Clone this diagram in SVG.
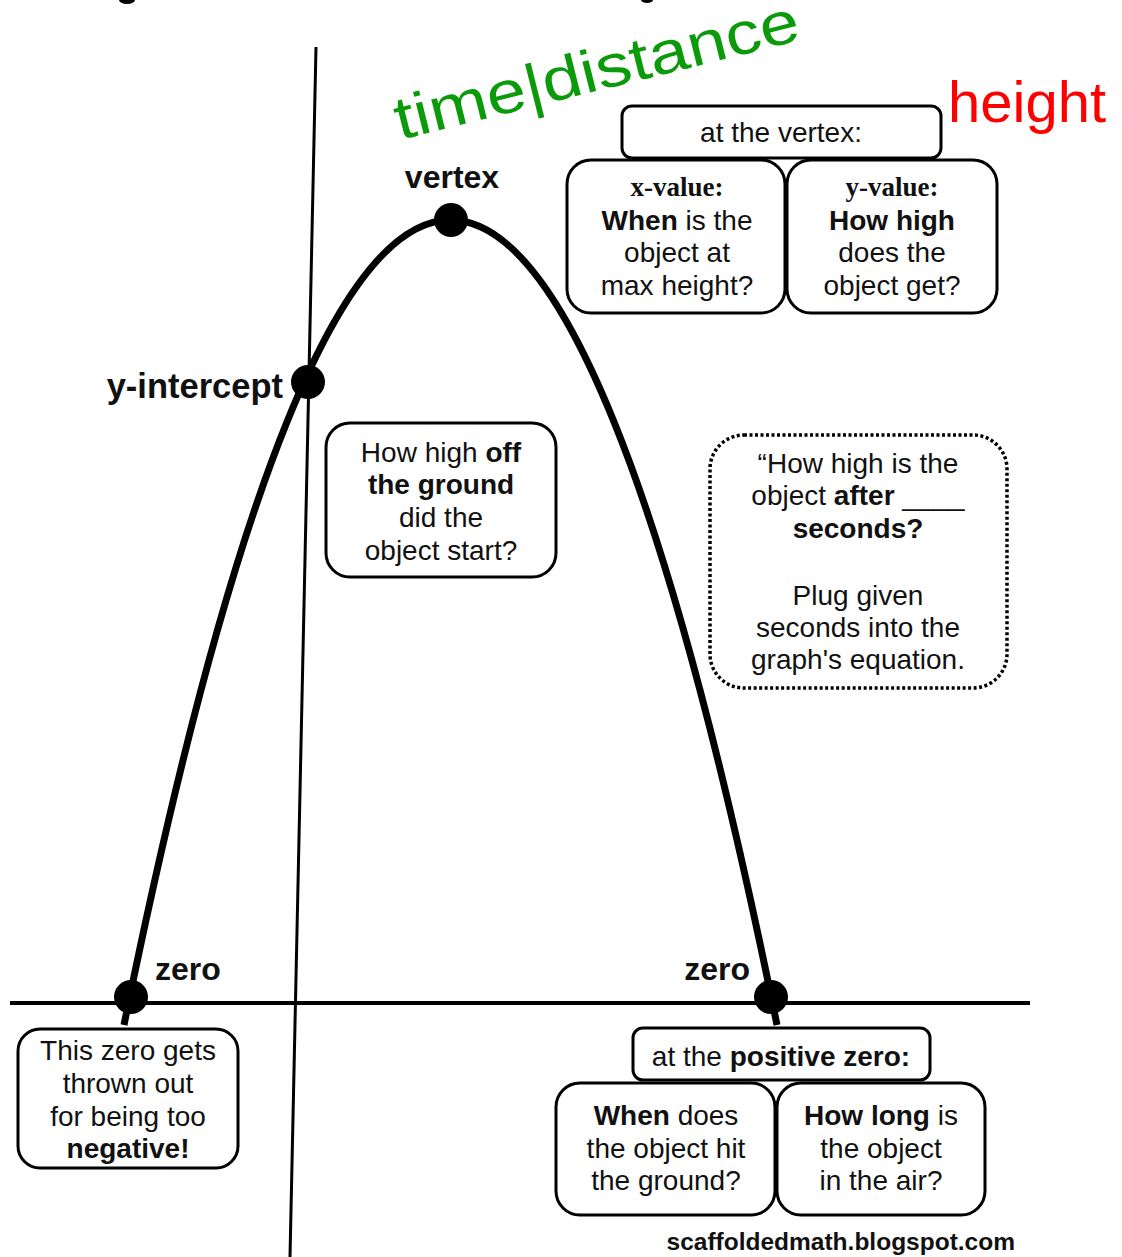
<svg xmlns="http://www.w3.org/2000/svg" width="1122" height="1257" viewBox="0 0 1122 1257">
<defs>
<style>
.box{fill:#fff;stroke:#000;stroke-width:3}
.dot{fill:#000}
.t{font-family:"Liberation Sans",Arial,sans-serif;font-size:28px;fill:#111;text-anchor:middle}
.b{font-weight:bold}
.lbl{font-family:"Liberation Sans",Arial,sans-serif;font-size:32px;font-weight:bold;fill:#111}
.serif{font-family:"Liberation Serif","Times New Roman",serif;font-weight:bold;font-size:27px}
</style>
</defs>
<rect width="1122" height="1257" fill="#fff"/>
<ellipse cx="127" cy="0" rx="8" ry="4" fill="#000"/>
<ellipse cx="647" cy="0" rx="6" ry="3" fill="#000"/>

<g id="connectors">
<line x1="316" y1="47" x2="290" y2="1257" stroke="#000" stroke-width="3"/>
<line x1="10" y1="1003" x2="1030" y2="1003" stroke="#000" stroke-width="4"/>
<path id="parabola" d="M124,1025 Q450.5,-585 777,1025" fill="none" stroke="#000" stroke-width="7"/>
</g>

<g id="points">
<circle class="dot" cx="451" cy="220" r="17"/>
<circle class="dot" cx="308" cy="382" r="17"/>
<circle class="dot" cx="131" cy="997" r="17"/>
<circle class="dot" cx="771" cy="997" r="17"/>
</g>

<g id="labels">
<text class="lbl" x="452" y="188" text-anchor="middle">vertex</text>
<text class="lbl" x="283" y="398" text-anchor="end" style="font-size:34.5px">y-intercept</text>
<text class="lbl" x="155" y="980">zero</text>
<text class="lbl" x="750" y="980" text-anchor="end">zero</text>
</g>

<g id="handwriting">
<text x="400" y="140" transform="rotate(-14 400 140)" font-family="Liberation Sans, Arial, sans-serif" font-size="60" textLength="415" lengthAdjust="spacingAndGlyphs" fill="#0a9a0a">time|distance</text>
</g>
<g id="height-label">
<text x="948" y="122" font-family="Liberation Sans, Arial, sans-serif" font-size="58" fill="#ff0000">height</text>
</g>

<g id="vertex-header">
<rect class="box" x="622" y="106" width="319" height="52" rx="10"/>
<text class="t" x="781" y="142">at the vertex:</text>
</g>
<g id="x-value">
<rect class="box" x="567" y="160" width="218" height="153" rx="24"/>
<text class="t" x="677" y="196"><tspan class="serif">x-value:</tspan></text>
<text class="t" x="677" y="230"><tspan class="b">When</tspan> is the</text>
<text class="t" x="677" y="262">object at</text>
<text class="t" x="677" y="295">max height?</text>
</g>
<g id="y-value">
<rect class="box" x="787" y="160" width="210" height="153" rx="24"/>
<text class="t" x="892" y="196"><tspan class="serif">y-value:</tspan></text>
<text class="t b" x="892" y="230">How high</text>
<text class="t" x="892" y="262">does the</text>
<text class="t" x="892" y="295">object get?</text>
</g>

<g id="y-intercept-box">
<rect class="box" x="326" y="423" width="230" height="154" rx="24"/>
<text class="t" x="441" y="462">How high <tspan class="b">off</tspan></text>
<text class="t b" x="441" y="494">the ground</text>
<text class="t" x="441" y="527">did the</text>
<text class="t" x="441" y="560">object start?</text>
</g>

<g id="after-seconds-box">
<rect x="710" y="435" width="297" height="253" rx="34" fill="#fff" stroke="#000" stroke-width="3.5" stroke-dasharray="3 2.5"/>
<text class="t" x="858" y="473">“How high is the</text>
<text class="t" x="858" y="505">object <tspan class="b">after</tspan> ____</text>
<text class="t b" x="858" y="538">seconds?</text>
<text class="t" x="858" y="605">Plug given</text>
<text class="t" x="858" y="637">seconds into the</text>
<text class="t" x="858" y="669">graph's equation.</text>
</g>

<g id="negative-zero-box">
<rect class="box" x="18" y="1029" width="220" height="139" rx="22"/>
<text class="t" x="128" y="1060">This zero gets</text>
<text class="t" x="128" y="1093">thrown out</text>
<text class="t" x="128" y="1126">for being too</text>
<text class="t b" x="128" y="1158">negative!</text>
</g>

<g id="positive-zero-header">
<rect class="box" x="633" y="1028" width="297" height="52" rx="10"/>
<text class="t" x="781" y="1066">at the <tspan class="b">positive zero:</tspan></text>
</g>
<g id="hit-ground">
<rect class="box" x="556" y="1083" width="219" height="132" rx="24"/>
<text class="t" x="666" y="1125"><tspan class="b">When</tspan> does</text>
<text class="t" x="666" y="1158">the object hit</text>
<text class="t" x="666" y="1190">the ground?</text>
</g>
<g id="in-air">
<rect class="box" x="777" y="1083" width="208" height="132" rx="24"/>
<text class="t" x="881" y="1125"><tspan class="b">How long</tspan> is</text>
<text class="t" x="881" y="1158">the object</text>
<text class="t" x="881" y="1190">in the air?</text>
</g>

<g id="credit">
<text x="1015" y="1250" text-anchor="end" font-family="Liberation Sans, Arial, sans-serif" font-size="24.5" font-weight="bold" fill="#111">scaffoldedmath.blogspot.com</text>
</g>
</svg>
